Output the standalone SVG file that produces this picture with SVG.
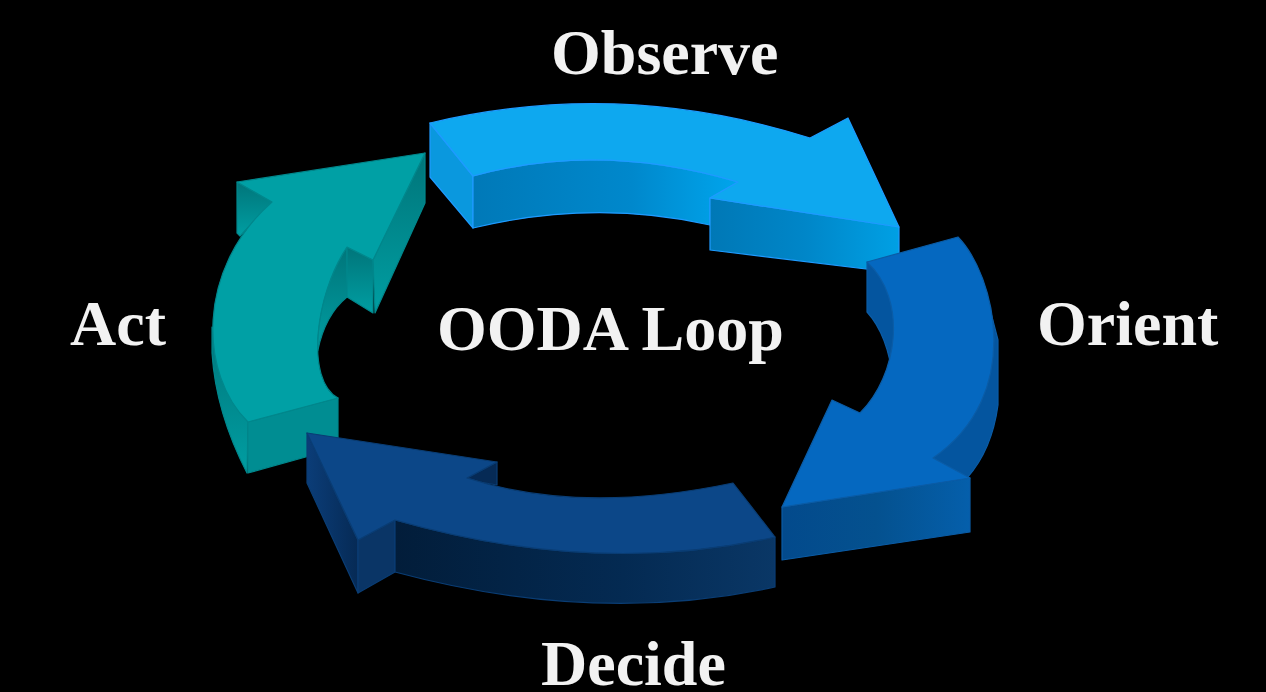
<svg xmlns="http://www.w3.org/2000/svg" width="1266" height="692" viewBox="0 0 1266 692">
<defs>
<style>
.lbl{font-family:"Liberation Serif","Times New Roman",serif;font-weight:bold;font-size:64px;fill:#f2f2f2}
.ob{stroke:#1e9bff;stroke-width:1.2;stroke-linejoin:round}
.or{stroke:#0b5ca6;stroke-width:1.2;stroke-linejoin:round}
.de{stroke:#0a3d74;stroke-width:1.2;stroke-linejoin:round}
.ac{stroke:#00878c;stroke-width:1.2;stroke-linejoin:round}
</style>
<linearGradient id="obFront" x1="0" y1="0" x2="1" y2="0">
<stop offset="0" stop-color="#0079b8"/><stop offset="0.6" stop-color="#0088cc"/><stop offset="1" stop-color="#00a5ec"/>
</linearGradient>
<linearGradient id="obHead" x1="0" y1="0" x2="1" y2="0">
<stop offset="0" stop-color="#0078b6"/><stop offset="0.5" stop-color="#0086c8"/><stop offset="1" stop-color="#00a0e4"/>
</linearGradient>
<linearGradient id="orFront" x1="0" y1="0" x2="1" y2="0">
<stop offset="0" stop-color="#034a8c"/><stop offset="0.5" stop-color="#04518f"/><stop offset="1" stop-color="#055fab"/>
</linearGradient>
<linearGradient id="deFront" x1="0" y1="0" x2="1" y2="0">
<stop offset="0" stop-color="#021d3a"/><stop offset="0.6" stop-color="#042a52"/><stop offset="1" stop-color="#0a3766"/>
</linearGradient>
<linearGradient id="deSide" x1="0" y1="0" x2="1" y2="0">
<stop offset="0" stop-color="#0b3d78"/><stop offset="1" stop-color="#062a55"/>
</linearGradient>
<linearGradient id="acSide" x1="0" y1="0" x2="0" y2="1">
<stop offset="0" stop-color="#00757a"/><stop offset="1" stop-color="#009ea2"/>
</linearGradient>
</defs>
<rect x="0" y="0" width="1266" height="692" fill="#000"/>

<g id="act">
<path class="ac" fill="url(#acSide)" d="M212,327 L212,353 C215,400 230,440 247,473 L248,422 Z"/>
<path class="ac" fill="#008d92" d="M248,422 L338,398 L338,448 L248,473 Z"/>
<path class="ac" fill="url(#acSide)" d="M347,247 C327.8,275.8 316.5,317.9 317.7,350.9 Q325,315 347,297 Z"/>
<path class="ac" fill="url(#acSide)" d="M347,247 L373,260 L373,313 L347,297 Z"/>
<path class="ac" fill="url(#acSide)" d="M425,153 L425,203 L375,313 L373,260 Z"/>
<path class="ac" fill="url(#acSide)" d="M237,182 L272,202 L240,236 L237,233 Z"/>
<path class="ac" fill="#00a0a5" d="M425,153 L373,260 L347,247 C315,295 305,380 338,398 L248,422 C200,375 195,270 272,202 L237,182 Z"/>
</g>

<g id="observe">
<path class="ob" fill="#0a98de" d="M430,123 L430,177 L473,228 L473,176 Z"/>
<path class="ob" fill="url(#obFront)" d="M473,176 Q600,141 738,182 L710,198 L710,225 Q594,199 473,228 Z"/>
<path class="ob" fill="url(#obHead)" d="M710,198 L899,227 L899,273 L710,250 Z"/>
<path class="ob" fill="#0ea8ef" d="M430,123 Q620,78 810,138 L848,118 L899,227 L710,198 L738,182 Q600,141 473,176 Z"/>
</g>

<g id="orient">
<path class="or" fill="#04559f" d="M867,262 L867,312 Q888,335 893,380 L915,380 L915,262 Z"/>
<path class="or" fill="#04559f" d="M985,290 L998,340 L998,405 Q992,450 967,478 L933,458 Z"/>
<path class="or" fill="url(#orFront)" d="M782,507 L970,478 L970,532 L782,560 Z"/>
<path class="or" fill="#0568c0" d="M867,262 L958,237 C995,275 1025,395 933,458 L970,478 L782,507 L832,400 L860,413 C898,375 908,300 867,262 Z"/>
</g>

<g id="decide">
<path class="de" fill="url(#deSide)" d="M307,433 L358,540 L358,593 L307,483 Z"/>
<path class="de" fill="#0a3566" d="M358,540 L395,520 L395,572 L358,593 Z"/>
<path class="de" fill="url(#deFront)" d="M395,520 Q595,577 775,537 L775,587 Q595,626 395,572 Z"/>
<path class="de" fill="#062a55" d="M467,478 L497,462 L497,485 L480,482 Z"/>
<path class="de" fill="#0c4788" d="M307,433 L497,462 L467,478 Q580,515 733,483 L775,537 Q595,577 395,520 L358,540 Z"/>
</g>

<g id="labels">
<text class="lbl" x="551" y="74">Observe</text>
<text class="lbl" x="1037" y="345">Orient</text>
<text class="lbl" x="541" y="685">Decide</text>
<text class="lbl" x="70" y="345">Act</text>
<text class="lbl" x="437" y="350">OODA Loop</text>
</g>
</svg>
